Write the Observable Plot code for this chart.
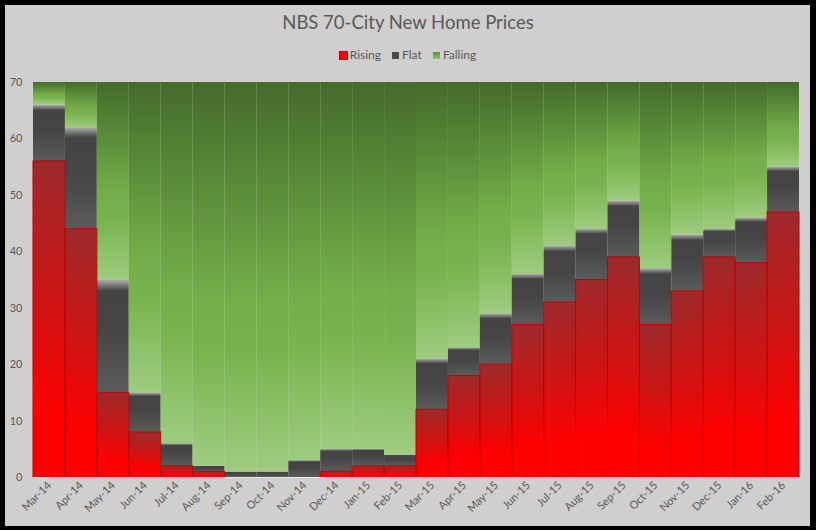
<!DOCTYPE html>
<html>
<head>
<meta charset="utf-8">
<script src="https://cdn.jsdelivr.net/npm/d3@7"></script>
<script src="https://cdn.jsdelivr.net/npm/@observablehq/plot@0.6"></script>
<style>
  html, body { margin: 0; padding: 0; background: #000; }
  #frame { position: relative; width: 816px; height: 530px; background: #000; overflow: hidden; }
  #inner { position: absolute; left: 5px; top: 5px; width: 805px; height: 521px; background: #d0cece; }
  #title { position: absolute; left: 0; top: 11px; width: 816px; text-align: center;
           font-family: Lato, "Open Sans", sans-serif; font-size: 18.5px; color: #595959; }
  #legend { position: absolute; left: 0; top: 47px; width: 816px; text-align: center;
            font-family: Lato, "Open Sans", sans-serif; font-size: 12px; color: #595959; }
  #legend span.item { margin: 0 4px; }
  #legend span.sw { display: inline-block; width: 7px; height: 7px; margin-right: 3px; vertical-align: 0px; }
  #chart { position: absolute; left: 0; top: 60px; }
</style>
</head>
<body>
<div id="frame">
  <div id="inner"></div>
  <div id="title">NBS 70-City New Home Prices</div>
  <div id="legend">
    <span class="item"><span class="sw" style="background:#ff0000;outline:1px solid #c00000;"></span>Rising</span>
    <span class="item"><span class="sw" style="background:#4a4a4a;"></span>Flat</span>
    <span class="item"><span class="sw" style="background:linear-gradient(#5a8f3a,#8cc46a);"></span>Falling</span>
  </div>
  <div id="chart"></div>
</div>
<script>
const months = ["Mar-14","Apr-14","May-14","Jun-14","Jul-14","Aug-14","Sep-14","Oct-14","Nov-14","Dec-14","Jan-15","Feb-15",
                "Mar-15","Apr-15","May-15","Jun-15","Jul-15","Aug-15","Sep-15","Oct-15","Nov-15","Dec-15","Jan-16","Feb-16"];
const rising  = [56,44,15,8,2,1,0,0,0,1,2,2,12,18,20,27,31,35,39,27,33,39,38,47];
const flat    = [10,18,20,7,4,1,1,1,3,4,3,2,9,5,9,9,10,9,10,10,10,5,8,8];
const falling = [4,8,35,55,64,68,69,69,67,65,65,66,49,47,41,34,29,26,21,33,27,26,24,15];
const seriesNames = ["Rising","Flat","Falling"];
const yTicks = [0,10,20,30,40,50,60,70];

const long = [];
months.forEach((m, i) => {
  long.push({month: m, series: "Rising", value: rising[i]});
  long.push({month: m, series: "Flat", value: flat[i]});
  long.push({month: m, series: "Falling", value: falling[i]});
});
const risingData = months.map((m, i) => ({month: m, value: rising[i]}));

const svg = Plot.plot({
  width: 816,
  height: 470,
  marginLeft: 33,
  marginRight: 17,
  marginTop: 22,
  marginBottom: 53,
  style: {background: "transparent", fontFamily: "Lato, 'Open Sans', sans-serif", fontSize: "11px", color: "#595959"},
  x: {domain: months, padding: 0, round: false, label: null, tickSize: 0, tickPadding: 6, tickRotate: -45},
  y: {domain: [0, 70], ticks: yTicks, label: null, tickSize: 0, tickPadding: 11},
  color: {domain: seriesNames, range: ["url(#gRed)", "url(#gGrey)", "url(#gGreen)"]},
  marks: [
    Plot.barY(long, Plot.stackY({
      x: "month", y: "value", fill: "series",
      order: seriesNames, inset: 0
    })),
    Plot.barY(risingData, {x: "month", y: "value", fill: "none", stroke: "#c00000", strokeWidth: 1, inset: 0}),
    Plot.ruleY([0], {stroke: "#e8e8e8", strokeWidth: 1})
  ]
});

const defs = d3.select(svg).insert("defs", ":first-child");
function grad(id, stops) {
  const g = defs.append("linearGradient").attr("id", id).attr("x1", 0).attr("y1", 0).attr("x2", 0).attr("y2", 1);
  stops.forEach(([o, c]) => g.append("stop").attr("offset", o).attr("stop-color", c));
}
grad("gRed", [[0, "#9c2a2b"], [0.45, "#cf1414"], [0.8, "#ff0000"], [1, "#ff0000"]]);
grad("gGrey", [[0, "#b0b0b0"], [0.1, "#444444"], [0.45, "#454545"], [1, "#5b5b5b"]]);
grad("gGreen", [[0, "#446b2b"], [0.55, "#72ad48"], [0.7, "#78b44d"], [1, "#9fcc80"]]);

d3.select(svg).selectAll("text").attr("fill", "#595959");
document.getElementById("chart").appendChild(svg);
</script>
</body>
</html>
